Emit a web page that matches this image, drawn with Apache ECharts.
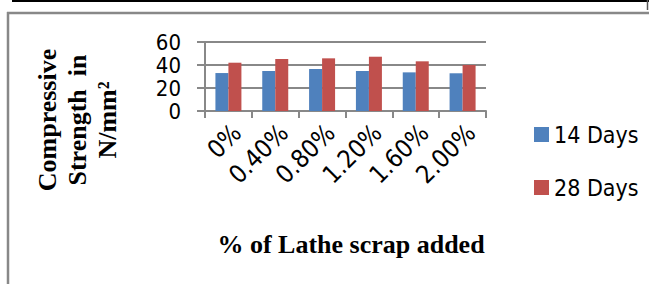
<!DOCTYPE html>
<html>
<head>
<meta charset="utf-8">
<style>
  html, body { margin: 0; padding: 0; background: #fff; }
  #chart { width: 649px; height: 284px; }
</style>
<script src="https://cdn.jsdelivr.net/npm/echarts@6/dist/echarts.min.js"></script>
</head>
<body>
<div id="chart"></div>
<script>
var categories = ['0%', '0.40%', '0.80%', '1.20%', '1.60%', '2.00%'];
var days14 = [33, 34.8, 36.5, 34.8, 33.6, 32.8];
var days28 = [42, 45.2, 45.8, 47.2, 43.2, 40];
var yTicks = [0, 20, 40, 60];

var narrow = '"DejaVu Sans Condensed", "DejaVu Sans", sans-serif';
var serif = '"Liberation Serif", "DejaVu Serif", serif';
var gray = '#888888';

var chart = echarts.init(document.getElementById('chart'), null, { renderer: 'svg' });
chart.setOption({
  animation: false,
  grid: { left: 205, right: 163, top: 42, bottom: 173 },
  legend: {
    orient: 'vertical',
    left: 529,
    top: 118,
    icon: 'rect',
    itemWidth: 15,
    itemHeight: 15,
    itemGap: 30,
    textStyle: { fontFamily: narrow, fontSize: 23, color: '#000' },
    data: ['14 Days', '28 Days']
  },
  xAxis: {
    type: 'category',
    data: categories,
    axisLine: { lineStyle: { color: gray, width: 2 } },
    axisTick: { show: true, length: 7, lineStyle: { color: gray, width: 2 } },
    axisLabel: {
      rotate: 45, margin: 26, padding: [0, -12, 0, 0],
      fontFamily: narrow, fontSize: 25, color: '#000'
    }
  },
  yAxis: {
    type: 'value',
    min: yTicks[0],
    max: yTicks[yTicks.length - 1],
    interval: 20,
    axisLine: { show: true, lineStyle: { color: gray, width: 2 } },
    axisTick: { show: true, length: 8, lineStyle: { color: gray, width: 2 } },
    splitLine: { lineStyle: { color: gray, width: 2 } },
    axisLabel: {
      margin: 24, showMinLabel: true, showMaxLabel: true, hideOverlap: false,
      fontFamily: narrow, fontSize: 22, lineHeight: 20, color: '#000'
    }
  },
  series: [
    {
      name: '14 Days',
      type: 'bar',
      data: days14,
      barWidth: 13,
      barGap: '0%',
      itemStyle: { color: '#4F81BD' }
    },
    {
      name: '28 Days',
      type: 'bar',
      data: days28,
      barWidth: 13,
      itemStyle: { color: '#C0504D' }
    }
  ],
  graphic: [
    // page frame lines
    { type: 'line', shape: { x1: 12, y1: 1, x2: 649, y2: 1 }, style: { stroke: '#000', lineWidth: 2 } },
    { type: 'line', shape: { x1: 647.5, y1: 0, x2: 647.5, y2: 10 }, style: { stroke: '#555', lineWidth: 1.5 } },
    { type: 'line', shape: { x1: 7, y1: 13, x2: 649, y2: 13 }, style: { stroke: gray, lineWidth: 2.5 } },
    { type: 'line', shape: { x1: 8, y1: 12, x2: 8, y2: 284 }, style: { stroke: gray, lineWidth: 2.5 } },
    // axis titles
    {
      type: 'text',
      x: 77, y: 120,
      rotation: Math.PI / 2,
      style: {
        text: 'Compressive\nStrength  in\nN/mm²',
        font: 'bold 26px ' + serif,
        fill: '#000',
        align: 'center',
        verticalAlign: 'middle',
        lineHeight: 30
      }
    },
    {
      type: 'text',
      x: 351, y: 244,
      style: {
        text: '% of Lathe scrap added',
        font: 'bold 26px ' + serif,
        fill: '#000',
        align: 'center',
        verticalAlign: 'middle'
      }
    }
  ]
});
</script>
</body>
</html>
